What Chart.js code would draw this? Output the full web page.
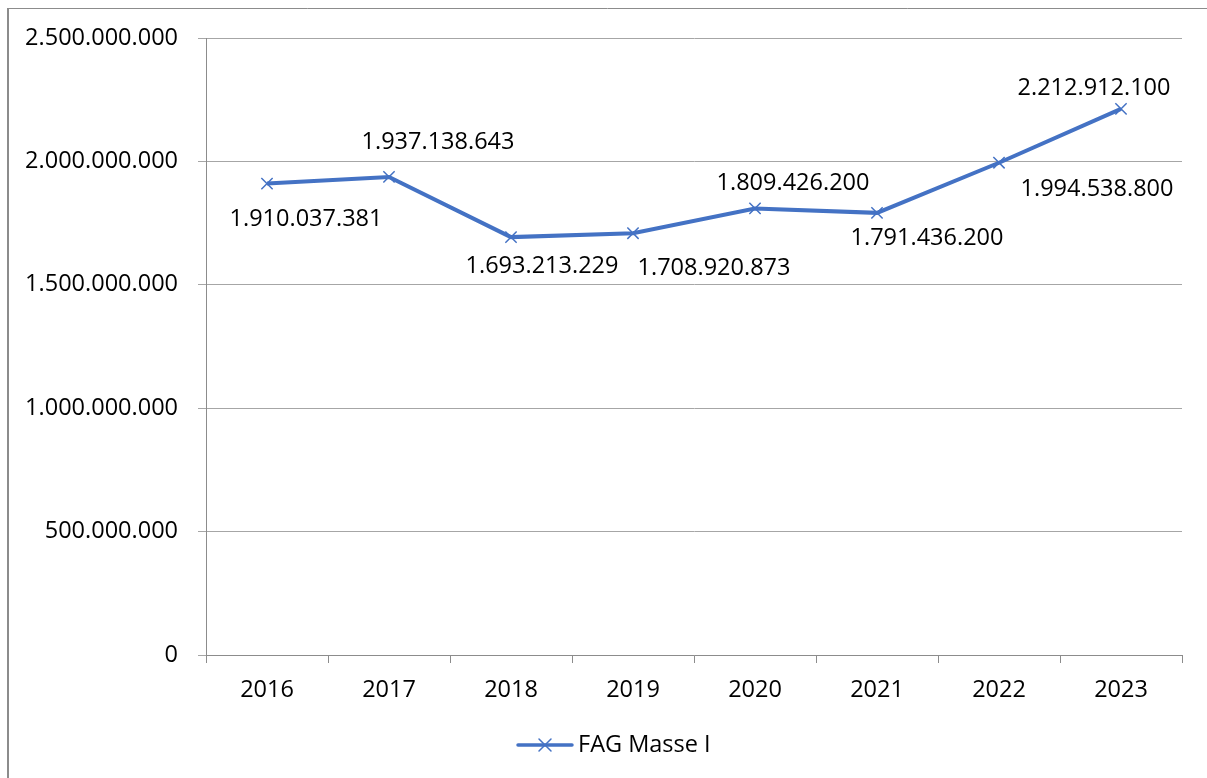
<!DOCTYPE html>
<html>
<head>
<meta charset="utf-8">
<script src="https://cdn.jsdelivr.net/npm/chart.js@4.4.1/dist/chart.umd.min.js"></script>
<style>
  html, body { margin: 0; padding: 0; background: #fff; }
  #wrap { position: relative; width: 1207px; height: 778px; }
</style>
</head>
<body>
<div id="wrap"><canvas id="chart" width="1207" height="778"></canvas></div>
<script>
// Data
const years   = ['2016', '2017', '2018', '2019', '2020', '2021', '2022', '2023'];
const fagMasse = [1910037381, 1937138643, 1693213229, 1708920873, 1809426200, 1791436200, 1994538800, 2212912100];
const yTicks  = [0, 500000000, 1000000000, 1500000000, 2000000000, 2500000000];
const seriesName = 'FAG Masse I';

// Where each data label sits relative to its point (px), hand placed like in the original
const labelOffsets = [[39, 36], [49, -35], [31, 29], [81, 35], [38, -25], [50, 25], [98, 27], [-27, -21]];

const BLUE = '#4472C4';
const FONT = '"Open Sans", "Noto Sans", sans-serif';
const FSIZE = 23.5;

function fmt(v) {
  return String(Math.round(v)).replace(/\B(?=(\d{3})+(?!\d))/g, '.');
}

// outer frame (only left and top edges are visible in the picture)
const framePlugin = {
  id: 'frame',
  beforeDraw(chart) {
    const ctx = chart.ctx;
    ctx.save();
    ctx.strokeStyle = '#8c8c8c';
    ctx.lineWidth = 2;
    ctx.beginPath();
    ctx.moveTo(8, 778);
    ctx.lineTo(8, 8);
    ctx.stroke();
    ctx.lineWidth = 1;
    ctx.beginPath();
    ctx.moveTo(8, 8.5);
    ctx.lineTo(1207, 8.5);
    ctx.stroke();
    ctx.restore();
  }
};

const labelPlugin = {
  id: 'valueLabels',
  afterDatasetsDraw(chart) {
    const ctx = chart.ctx;
    const meta = chart.getDatasetMeta(0);
    ctx.save();
    ctx.font = `${FSIZE}px ${FONT}`;
    ctx.fillStyle = '#000';
    ctx.textAlign = 'center';
    ctx.textBaseline = 'middle';
    meta.data.forEach((pt, i) => {
      const [dx, dy] = labelOffsets[i];
      ctx.fillText(fmt(fagMasse[i]), pt.x + dx, pt.y + dy);
    });
    ctx.restore();
  }
};

// legend drawn like the office one: a line with the cross marker on it
const legendPlugin = {
  id: 'lineLegend',
  afterDraw(chart) {
    const ctx = chart.ctx;
    const y = 745, x0 = 518, x1 = 572;
    ctx.save();
    ctx.strokeStyle = BLUE;
    ctx.lineWidth = 3.5;
    ctx.lineCap = 'round';
    ctx.beginPath();
    ctx.moveTo(x0, y);
    ctx.lineTo(x1, y);
    ctx.stroke();
    ctx.lineWidth = 1.5;
    const m = (x0 + x1) / 2, r = 6;
    ctx.beginPath();
    ctx.moveTo(m - r, y - r); ctx.lineTo(m + r, y + r);
    ctx.moveTo(m - r, y + r); ctx.lineTo(m + r, y - r);
    ctx.stroke();
    ctx.font = `${FSIZE}px ${FONT}`;
    ctx.fillStyle = '#000';
    ctx.textAlign = 'left';
    ctx.textBaseline = 'middle';
    ctx.fillText(seriesName, 578, y);
    ctx.restore();
  }
};

Chart.defaults.font.family = FONT;
Chart.defaults.font.size = FSIZE;
Chart.defaults.color = '#000';

new Chart(document.getElementById('chart'), {
  type: 'line',
  data: {
    labels: years,
    datasets: [{
      label: seriesName,
      data: fagMasse,
      borderColor: BLUE,
      backgroundColor: BLUE,
      borderWidth: 4,
      tension: 0,
      pointStyle: 'crossRot',
      pointRadius: 8,
      pointHoverRadius: 8,
      pointBorderWidth: 1.5,
      pointBorderColor: BLUE,
    }],
  },
  options: {
    responsive: false,
    animation: false,
    events: [],
    layout: { padding: { left: 0, top: 38, right: 25, bottom: 0 } },
    plugins: {
      legend: { display: false },
      tooltip: { enabled: false },
    },
    scales: {
      x: {
        offset: true,
        grid: { offset: true, drawOnChartArea: false, drawTicks: true, tickLength: 8, color: '#8c8c8c' },
        border: { color: '#8c8c8c', width: 1 },
        ticks: { padding: 13, color: '#000', maxRotation: 0 },
        afterFit(scale) { scale.height = 123; },
      },
      y: {
        min: 0,
        max: 2500000000,
        afterBuildTicks(scale) { scale.ticks = yTicks.map(v => ({ value: v })); },
        grid: { color: '#a6a6a6', tickLength: 8, drawTicks: true },
        border: { color: '#8c8c8c', width: 1 },
        ticks: { padding: 20, color: '#000', callback: v => fmt(v) },
        afterFit(scale) { scale.width = 206; },
      },
    },
  },
  plugins: [framePlugin, labelPlugin, legendPlugin],
});
</script>
</body>
</html>
